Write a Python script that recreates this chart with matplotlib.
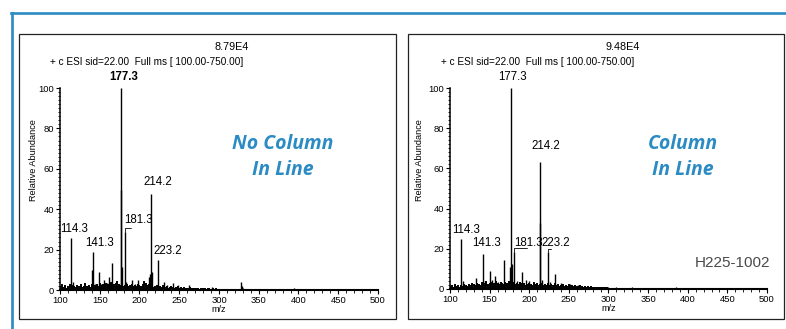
import numpy as np
import matplotlib.pyplot as plt
from matplotlib.patches import Rectangle
from matplotlib.lines import Line2D
from matplotlib.ticker import MultipleLocator

plt.rcParams['font.family'] = ['Liberation Sans', 'DejaVu Sans']

BLUE = '#2b8bc3'

# --- spectrum 1: no column in line ---
left_peak_mz = [114.3, 116.0, 139.8, 141.3, 143.5, 148.6, 152.0, 156.0, 159.0, 162.0,
                166.0, 176.3, 177.3, 178.3, 181.3, 182.5, 190.2, 194.0, 198.3, 211.6,
                213.2, 214.2, 215.2, 223.2, 230.6, 235.0, 242.7, 249.0, 262.9, 291.0,
                328.0, 329.0, 394.0]
left_peak_int = [25.6, 4.0, 9.9, 19.0, 3.0, 9.0, 3.0, 5.0, 3.5, 6.6,
                 13.5, 49.5, 100.0, 11.5, 28.5, 4.0, 5.0, 3.0, 5.0, 6.6,
                 8.0, 47.4, 9.0, 14.8, 4.0, 2.5, 3.6, 2.5, 2.5, 1.5,
                 4.0, 2.0, 1.2]
left_noise = [2.0, 3.0, 1.5, 2.5, 1.0, 2.0, 3.0, 1.5, 2.5, 2.0,
              1.5, 2.5, 2.0, 3.0, 1.5, 2.0, 3.5, 2.0, 2.5, 1.5,
              3.0, 2.0, 2.5, 3.0, 2.0, 3.5, 2.5, 3.0, 2.0, 3.5,
              2.5, 3.0, 4.0, 2.5, 3.0, 3.5, 4.5, 3.0, 2.5, 3.0,
              2.0, 2.5, 3.0, 2.0, 2.5, 3.0, 2.0, 2.5, 2.0, 3.0,
              2.5, 2.0, 3.0, 4.5, 3.5, 2.5, 3.0, 2.0, 2.5, 1.5,
              2.0, 2.5, 1.5, 2.0, 1.5, 2.5, 1.5, 2.0, 1.0, 1.5,
              2.0, 1.5, 1.0, 1.5, 2.0, 1.0, 1.5, 1.0, 1.5, 0.8,
              1.2, 1.0, 1.5, 0.8, 1.0, 1.2, 0.8, 1.0, 0.6, 1.0,
              0.8, 1.0, 0.6, 0.8, 1.0, 0.6, 0.8, 0.6, 0.8, 0.5]
left_tail = [0.5, 0.4, 0.6, 0.3, 0.5, 0.4, 0.8, 0.5, 0.4, 0.3,
             0.5, 0.4, 0.3, 0.5, 0.3, 0.4, 0.3, 0.6, 0.3, 0.4,
             0.3, 0.5, 0.3, 0.4, 0.3, 0.3, 0.4, 0.3, 0.5, 0.3,
             0.3, 0.4, 0.3, 0.3, 0.4, 0.3, 0.3, 0.4, 0.3, 0.3]

# --- spectrum 2: column in line ---
right_peak_mz = [114.3, 116.0, 132.2, 141.3, 144.0, 150.2, 153.0, 157.3, 161.0, 167.7,
                 176.3, 177.3, 178.3, 181.3, 184.0, 190.6, 196.0, 200.0, 213.6, 214.2,
                 215.7, 223.2, 226.0, 232.4, 240.0, 251.0, 262.0]
right_peak_int = [25.0, 4.0, 5.6, 17.5, 4.0, 9.0, 4.5, 6.4, 3.5, 14.4,
                  11.0, 100.0, 12.4, 18.3, 4.0, 8.5, 4.5, 4.0, 33.0, 63.0,
                  4.7, 18.6, 3.5, 7.3, 3.0, 2.5, 2.0]
right_noise = [1.5, 2.0, 1.0, 2.5, 1.5, 2.0, 1.0, 2.0, 1.5, 2.5,
               2.0, 1.5, 2.5, 2.0, 3.0, 2.5, 2.0, 3.0, 2.5, 2.0,
               3.5, 2.5, 3.0, 4.0, 2.5, 3.0, 3.5, 2.5, 3.0, 4.0,
               3.0, 2.5, 3.5, 3.0, 2.5, 3.5, 3.0, 4.0, 2.5, 3.0,
               3.5, 2.5, 3.0, 2.5, 3.5, 3.0, 2.5, 3.0, 2.0, 2.5,
               3.0, 2.5, 2.0, 3.5, 2.5, 3.0, 2.0, 2.5, 3.0, 2.0,
               2.5, 2.0, 3.0, 2.0, 2.5, 2.0, 3.0, 2.0, 2.5, 1.5,
               2.0, 2.5, 1.5, 2.0, 1.5, 2.5, 1.5, 2.0, 1.5, 2.0,
               1.5, 1.0, 2.0, 1.5, 1.0, 1.5, 1.0, 1.5, 1.0, 1.5,
               1.0, 1.2, 0.8, 1.0, 1.2, 0.8, 1.0, 0.8, 1.0, 0.8]
right_tail = [0.8, 0.6, 0.8, 0.5, 0.7, 0.6, 0.8, 0.5, 0.6, 0.7,
              0.5, 0.6, 0.5, 0.7, 0.5, 0.6, 0.5, 0.8, 0.5, 0.6,
              0.5, 0.7, 0.5, 0.5, 0.6, 0.5, 0.5, 0.6, 0.5, 0.5,
              0.6, 0.5, 0.5, 0.5, 0.6, 0.5, 0.5, 0.4, 0.5, 0.4]

noise_mz = np.arange(100, 300, 2)
tail_mz = np.arange(300, 500, 5)

# labels: (m/z, text, dx pt, dy pt, bracket offset or None)
left_labels = [(114.3, '114.3', 1.9, 6.5, None),
               (141.3, '141.3', 5.0, 6.5, None),
               (177.3, '177.3', 1.8, 8.0, None),
               (181.3, '181.3', 10.0, 9.0, (4.5, 3.0)),
               (214.2, '214.2', 5.0, 8.6, None),
               (223.2, '223.2', 7.0, 6.5, None)]
right_labels = [(114.3, '114.3', 3.4, 6.3, None),
                (141.3, '141.3', 3.1, 7.8, None),
                (177.3, '177.3', 0.6, 8.0, None),
                (181.3, '181.3', 9.8, 6.5, (9.0, 2.9)),
                (214.2, '214.2', 4.0, 11.7, None),
                (223.2, '223.2', 6.0, 6.2, (2.5, 2.0))]

fig = plt.figure(figsize=(7.86, 3.29), dpi=100)

# blue frame
fig.add_artist(Line2D([0.014, 1.0], [0.959, 0.959], transform=fig.transFigure,
                      color=BLUE, lw=1.9))
fig.add_artist(Line2D([0.0153, 0.0153], [0.959, 0.0], transform=fig.transFigure,
                      color=BLUE, lw=1.9))


def draw_panel(box, rect, peak_mz, peak_int, noise, tail, labels, top, ylab_x,
               bold_main, tag1, tag2, tag_x):
    fig.add_artist(Rectangle((box[0], box[1]), box[2], box[3], transform=fig.transFigure,
                             fill=False, edgecolor='#222222', lw=0.9))
    ax = fig.add_axes(rect)
    ax.vlines(noise_mz, 0, noise, color='black', lw=1.4)
    ax.vlines(tail_mz, 0, tail, color='black', lw=0.9)
    ax.vlines(peak_mz, 0, peak_int, color='black', lw=1.0)
    ax.set_xlim(100, 500)
    ax.set_ylim(0, 100)
    for s in ['top', 'right']:
        ax.spines[s].set_visible(False)
    ax.spines['left'].set_linewidth(1.1)
    ax.spines['bottom'].set_linewidth(1.5)
    ax.xaxis.set_major_locator(MultipleLocator(50))
    ax.xaxis.set_minor_locator(MultipleLocator(10))
    ax.yaxis.set_major_locator(MultipleLocator(20))
    ax.yaxis.set_minor_locator(MultipleLocator(2))
    ax.tick_params(axis='both', which='major', direction='out', length=3, width=0.8,
                   labelsize=6.8, pad=1.2)
    ax.tick_params(axis='both', which='minor', direction='out', length=1.8, width=0.6)
    ax.set_xlabel('m/z', fontsize=6.5, labelpad=0)

    fig.text(ylab_x, 0.5137, 'Relative Abundance', rotation=90, fontsize=6.6,
             ha='center', va='center')
    fig.text(top[0], 0.857, top[1], fontsize=7.8, ha='center', va='center')
    fig.text(top[2], 0.811, '+ c ESI sid=22.00  Full ms [ 100.00-750.00]',
             fontsize=7.2, ha='center', va='center')

    for mz, txt, dx, dy, br in labels:
        h = peak_int[peak_mz.index(mz)]
        w = 'bold' if (bold_main and txt == '177.3') else 'normal'
        ax.annotate(txt, xy=(mz, h), xytext=(dx, dy), textcoords='offset points',
                    ha='center', va='center', fontsize=8.3, fontweight=w,
                    annotation_clip=False)
        if br is not None:
            ax.annotate('', xy=(mz, h), xytext=br, textcoords='offset points',
                        arrowprops=dict(arrowstyle='-', lw=0.6, shrinkA=0, shrinkB=0,
                                        connectionstyle='angle,angleA=0,angleB=90,rad=0'),
                        annotation_clip=False)

    fig.text(tag_x, 1 - 144 / 329, tag1, fontsize=14, ha='center', va='center',
             color=BLUE, family='Open Sans', fontweight='bold', style='italic')
    fig.text(tag_x, 1 - 170 / 329, tag2, fontsize=14, ha='center', va='center',
             color=BLUE, family='Open Sans', fontweight='bold', style='italic')
    return ax


draw_panel((0.0242, 0.0304, 0.4796, 0.8663), [0.0763, 0.1185, 0.4046, 0.614],
           left_peak_mz, left_peak_int, left_noise, left_tail, left_labels,
           (0.295, '8.79E4', 0.1864), 0.042, True, 'No Column', 'In Line', 0.360)
draw_panel((0.519, 0.0304, 0.4784, 0.8663), [0.5725, 0.1216, 0.4033, 0.6109],
           right_peak_mz, right_peak_int, right_noise, right_tail, right_labels,
           (0.7926, '9.48E4', 0.6845), 0.534, False, 'Column', 'In Line', 0.869)

fig.text(733 / 786, 1 - 263 / 329, 'H225-1002', fontsize=11, ha='center', va='center',
         color='#4a4a4a')

fig.savefig('out.png', dpi=100)
